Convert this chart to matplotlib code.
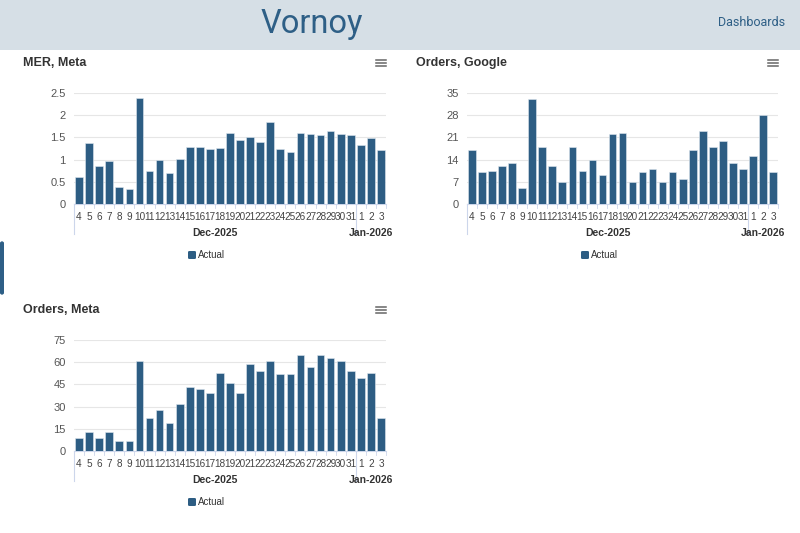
import matplotlib
matplotlib.use("Agg")
import matplotlib.pyplot as plt
from matplotlib.patches import Rectangle, FancyBboxPatch
from matplotlib.lines import Line2D
import matplotlib.transforms as mtransforms

plt.rcParams['font.family'] = ['Liberation Sans', 'DejaVu Sans']

days = ['4', '5', '6', '7', '8', '9', '10', '11', '12', '13', '14', '15', '16', '17', '18',
        '19', '20', '21', '22', '23', '24', '25', '26', '27', '28', '29', '30', '31',
        '1', '2', '3']
months = ['Dec-2025', 'Jan-2026']
month_counts = [28, 3]

mer_meta = [0.61, 1.38, 0.86, 0.97, 0.39, 0.33, 2.38, 0.75, 1.00, 0.70, 1.02, 1.28, 1.28,
            1.23, 1.27, 1.59, 1.44, 1.50, 1.40, 1.84, 1.25, 1.17, 1.60, 1.57, 1.55, 1.64,
            1.57, 1.55, 1.34, 1.49, 1.22]
orders_google = [17, 10, 10.4, 12, 13, 5, 33, 18, 12, 7, 18, 10.3, 14, 9.2, 22, 22.4, 7, 10,
                 11, 7, 10, 8, 17, 23, 18, 20, 13, 11, 15, 28, 10]
orders_meta = [9, 13, 9, 13, 7, 7, 61, 22, 28, 19, 32, 43, 42, 39, 53, 46, 39, 59, 54, 61,
               52, 52, 65, 57, 65, 63, 61, 54, 49, 53, 22]

titles = ['MER, Meta', 'Orders, Google', 'Orders, Meta']
y_ticks = [[0, 0.5, 1, 1.5, 2, 2.5], [0, 7, 14, 21, 28, 35], [0, 15, 30, 45, 60, 75]]
y_ticklabels = [['0', '0.5', '1', '1.5', '2', '2.5'], ['0', '7', '14', '21', '28', '35'],
                ['0', '15', '30', '45', '60', '75']]
legend_label = 'Actual'

BAR = '#2d5d83'
W, H = 800, 533

fig = plt.figure(figsize=(8, 5.33), dpi=100)
fig.patch.set_facecolor('white')


def fx(x):
    return x / W


def fy(y):
    return 1 - y / H


# header
fig.patches.append(Rectangle((0, fy(50)), 1, 50 / H, transform=fig.transFigure,
                             facecolor='#d6dfe6', edgecolor='none', zorder=0))
fig.text(fx(312), fy(24), 'Vornoy', ha='center', va='center', fontsize=23.5,
         color='#2e5f86', family=['Roboto', 'DejaVu Sans'], fontweight='normal')
fig.text(fx(752), fy(23), 'Dashboards', ha='center', va='center', fontsize=9,
         color='#2e5f86', family=['Roboto', 'DejaVu Sans'])
# left scroll indicator
fig.patches.append(FancyBboxPatch((0, fy(295)), fx(4), 54 / H, transform=fig.transFigure,
                                  boxstyle='round,pad=0,rounding_size=0.004',
                                  facecolor='#2e5f86', edgecolor='none'))

panels = [
    dict(data=mer_meta, left=74, right=386, top=93, bottom=204, title_x=23, title_y=63,
         menu_x=381, legend_x=205),
    dict(data=orders_google, left=467, right=778, top=93, bottom=204, title_x=416, title_y=63,
         menu_x=773, legend_x=598),
    dict(data=orders_meta, left=74, right=386, top=340, bottom=451, title_x=23, title_y=310,
         menu_x=381, legend_x=205),
]

x = list(range(len(days)))
for i, p in enumerate(panels):
    ax = fig.add_axes([fx(p['left']), fy(p['bottom']), fx(p['right'] - p['left']),
                       (p['bottom'] - p['top']) / H])
    ax.bar(x, p['data'], width=0.76, color=BAR, edgecolor='#dfe8f0', linewidth=0.4, zorder=3)
    ax.set_xlim(-0.5, len(days) - 0.5)
    ax.set_ylim(y_ticks[i][0], y_ticks[i][-1])
    ax.set_yticks(y_ticks[i])
    ax.set_yticklabels(y_ticklabels[i])
    ax.grid(axis='y', color='#e6e6e6', linewidth=0.8, zorder=0)
    for s in ['top', 'right', 'left']:
        ax.spines[s].set_visible(False)
    ax.spines['bottom'].set_color('#ccd6eb')
    ax.spines['bottom'].set_linewidth(0.8)
    ax.tick_params(axis='y', length=0, labelsize=8, labelcolor='#555555', pad=6)
    ax.set_xticks(x)
    ax.set_xticklabels(days)
    ax.tick_params(axis='x', length=0, labelsize=7.2, labelcolor='#444444', pad=6)
    ax.set_facecolor('white')

    hpx = p['bottom'] - p['top']
    trans = mtransforms.blended_transform_factory(ax.transData, ax.transAxes)
    # category tick marks
    for k in range(len(days) + 1):
        ax.add_line(Line2D([k - 0.5, k - 0.5], [0, -4 / hpx], transform=trans, color='#ccd6eb',
                           linewidth=0.6, clip_on=False))
    # group lines and labels
    start = 0
    for m, c in zip(months, month_counts):
        ax.add_line(Line2D([start - 0.5, start - 0.5], [0, -30 / hpx], transform=trans,
                           color='#ccd6eb', linewidth=0.8, clip_on=False))
        ax.text(start + (c - 1) / 2, -29 / hpx, m, transform=trans, ha='center', va='center',
                fontsize=7.5, fontweight='bold', color='#333333')
        start += c

    # title
    fig.text(fx(p['title_x']), fy(p['title_y']), titles[i], ha='left', va='center',
             fontsize=9, fontweight='bold', color='#333333')
    # menu icon
    for dy in (-3, 0, 3):
        fig.add_artist(Line2D([fx(p['menu_x'] - 5), fx(p['menu_x'] + 5)],
                              [fy(p['title_y'] + dy)] * 2, transform=fig.transFigure,
                              color='#666666', linewidth=1.1))
    # legend
    ly = p['bottom'] + 51
    fig.patches.append(FancyBboxPatch((fx(p['legend_x'] - 17), fy(ly + 4)), fx(8), 8 / H,
                                      transform=fig.transFigure,
                                      boxstyle='round,pad=0,rounding_size=0.002',
                                      facecolor=BAR, edgecolor='none'))
    fig.text(fx(p['legend_x'] - 7), fy(ly), legend_label, ha='left', va='center',
             fontsize=7, color='#333333')

fig.savefig('out.png', dpi=100)
